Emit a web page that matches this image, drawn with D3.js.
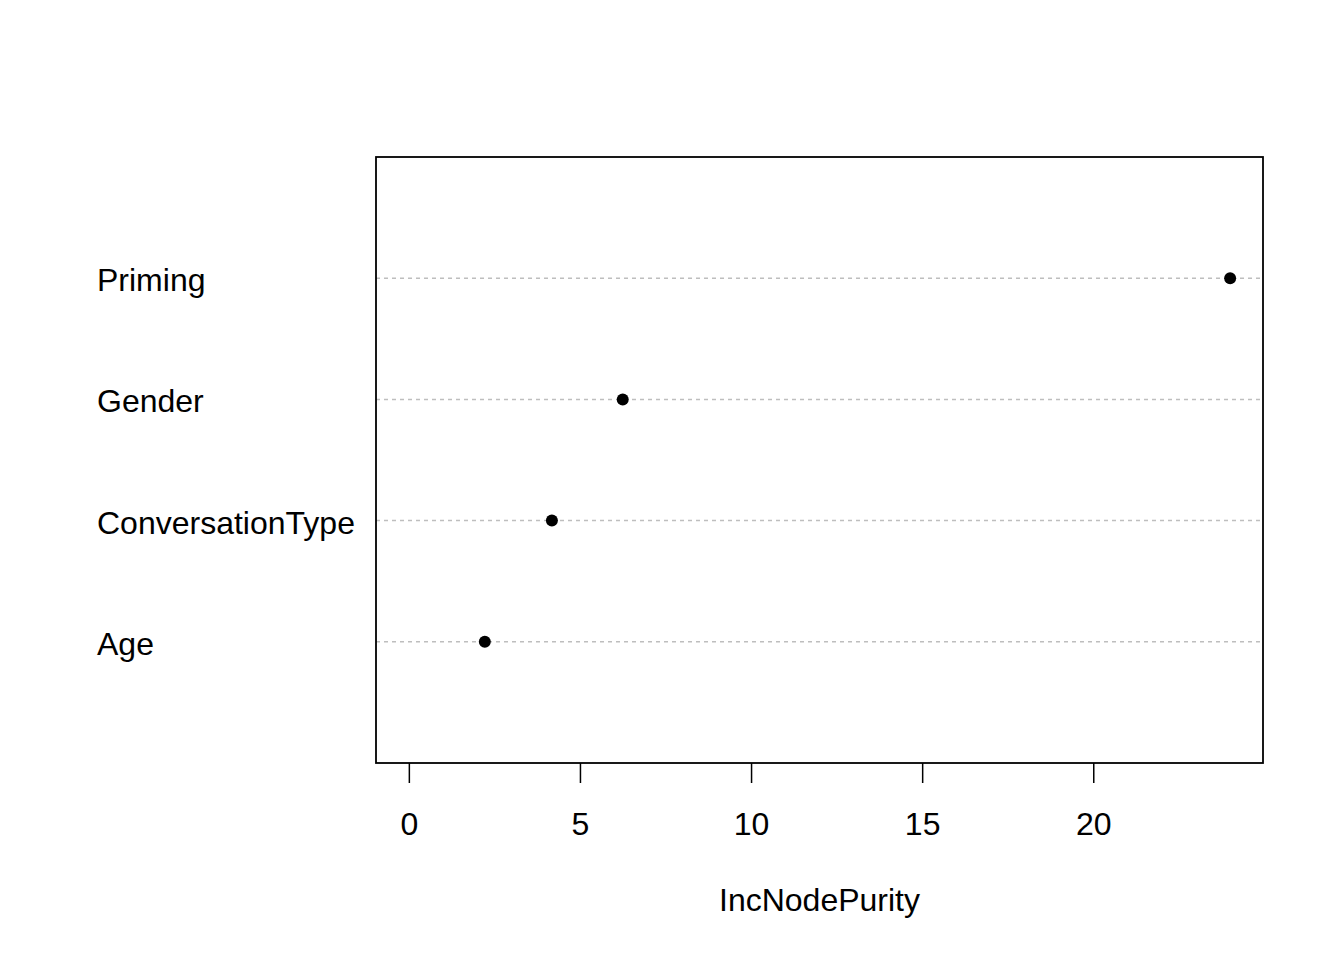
<!DOCTYPE html>
<html>
<head>
<meta charset="utf-8">
<script src="https://cdn.jsdelivr.net/npm/d3@7"></script>
<style>
  body { margin: 0; background: #fff; }
  text { font-family: "Liberation Sans", Arial, sans-serif; fill: #000; }
</style>
</head>
<body>
<div id="chart"></div>
<script>
(function () {

	'use strict';

	// variables, bottom to top as R's dotchart draws them
	var variables = ['Age', 'ConversationType', 'Gender', 'Priming'];
	var purity = [2.22, 4.18, 6.25, 24.0];
	var xTicks = [0, 5, 10, 15, 20];
	var xLabel = 'IncNodePurity';

	var width = 1344;
	var height = 960;
	var box = { left: 376, right: 1263, top: 157, bottom: 763 };
	var fontSize = '32px';

	var svg = d3.select('#chart')
		.append('svg')
		.attr('width', width)
		.attr('height', height);

	var xMax = d3.max(purity);
	var x = d3.scaleLinear()
		.domain([-0.04 * xMax, 1.04 * xMax])
		.range([box.left, box.right]);

	var y = d3.scaleLinear()
		.domain([0, variables.length + 1])
		.range([box.bottom, box.top]);

	// dotted guide lines
	svg.selectAll('line.guide')
		.data(variables)
		.enter()
		.append('line')
		.attr('class', 'guide')
		.attr('x1', box.left)
		.attr('x2', box.right)
		.attr('y1', function (d, i) { return y(i + 1); })
		.attr('y2', function (d, i) { return y(i + 1); })
		.attr('stroke', '#bebebe')
		.attr('stroke-width', 1.5)
		.style('stroke-dasharray', '4, 4');

	// points
	svg.selectAll('circle')
		.data(purity)
		.enter()
		.append('circle')
		.attr('cx', function (d) { return x(d); })
		.attr('cy', function (d, i) { return y(i + 1); })
		.attr('r', 6)
		.attr('fill', '#000');

	// row labels
	svg.selectAll('text.label')
		.data(variables)
		.enter()
		.append('text')
		.attr('class', 'label')
		.attr('x', 97)
		.attr('y', function (d, i) { return y(i + 1) + 13; })
		.style('font-size', fontSize)
		.text(function (d) { return d; });

	// x axis
	var axis = d3.axisBottom(x)
		.tickValues(xTicks)
		.tickSize(20)
		.tickPadding(29)
		.tickFormat(d3.format('d'));

	var g = svg.append('g')
		.attr('transform', 'translate(0,' + box.bottom + ')')
		.call(axis);

	g.select('.domain').remove();
	g.selectAll('.tick line').attr('stroke', '#000').attr('stroke-width', 1.5);
	g.selectAll('.tick text')
		.style('font-size', fontSize)
		.style('font-family', '"Liberation Sans", Arial, sans-serif')
		.attr('fill', '#000');

	// plot box
	svg.append('rect')
		.attr('x', box.left)
		.attr('y', box.top)
		.attr('width', box.right - box.left)
		.attr('height', box.bottom - box.top)
		.attr('fill', 'none')
		.attr('stroke', '#000')
		.attr('stroke-width', 1.8);

	svg.append('text')
		.attr('x', (box.left + box.right) / 2)
		.attr('y', 911)
		.attr('text-anchor', 'middle')
		.style('font-size', fontSize)
		.text(xLabel);

})();
</script>
</body>
</html>
